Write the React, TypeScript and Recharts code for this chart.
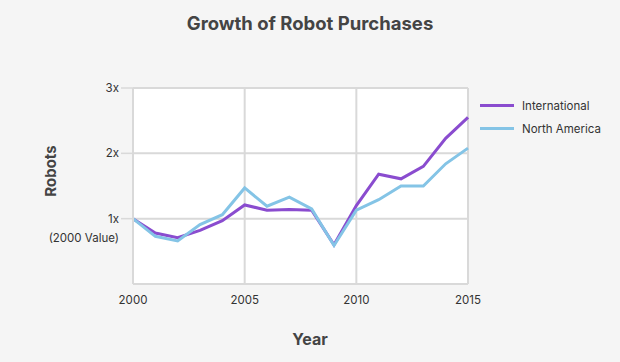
import React from 'react';
import { LineChart, Line, XAxis, YAxis, CartesianGrid, Legend } from 'recharts';

const years = [2000, 2001, 2002, 2003, 2004, 2005, 2006, 2007, 2008, 2009, 2010, 2011, 2012, 2013, 2014, 2015];
const international = [1.0, 0.78, 0.71, 0.82, 0.97, 1.21, 1.13, 1.14, 1.13, 0.6, 1.2, 1.68, 1.61, 1.8, 2.23, 2.55];
const northAmerica = [1.0, 0.73, 0.66, 0.91, 1.06, 1.47, 1.19, 1.33, 1.15, 0.59, 1.13, 1.29, 1.5, 1.5, 1.84, 2.08];
const xTicks = [2000, 2005, 2010, 2015];
const yTicks = [1, 2, 3];
const yTickLabels: Record<number, string> = { 1: '1x', 2: '2x', 3: '3x' };

const data = years.map((y, i) => ({ year: y, international: international[i], northAmerica: northAmerica[i] }));

const FONT = 'Inter, "Open Sans", sans-serif';
const PURPLE = '#8a4ccf';
const BLUE = '#84c4e6';
const GRID = '#d9d9d9';

const YTick = (props: any) => {
  const { x, y, payload } = props;
  return (
    <g>
      <text x={x} y={y} dy={4} textAnchor="end" fontSize={11.5} fill="#333" fontFamily={FONT}>
        {yTickLabels[payload.value]}
      </text>
      {payload.value === 1 && (
        <text x={x} y={y + 19} dy={4} textAnchor="end" fontSize={11.5} fill="#333" fontFamily={FONT}>
          (2000 Value)
        </text>
      )}
    </g>
  );
};

const renderLegend = (props: any) => {
  const { payload } = props;
  return (
    <div style={{ fontFamily: FONT, fontSize: 11.5, color: '#333' }}>
      {payload.map((p: any) => (
        <div key={p.value} style={{ display: 'flex', alignItems: 'center', height: 23 }}>
          <div style={{ width: 34, height: 3, background: p.color, marginRight: 8 }} />
          <span>{p.value}</span>
        </div>
      ))}
    </div>
  );
};

export default function App() {
  return (
    <div style={{ position: 'absolute', left: 0, top: 0, width: 620, height: 362, background: '#f5f5f5', fontFamily: FONT }}>
      <div style={{ position: 'absolute', left: 0, top: 12, width: 620, textAlign: 'center', fontSize: 18.5, fontWeight: 700, color: '#444' }}>
        Growth of Robot Purchases
      </div>
      <div style={{ position: 'absolute', left: 50, top: 171, transform: 'translate(-50%, -50%) rotate(-90deg)', fontSize: 15, fontWeight: 700, color: '#444', whiteSpace: 'nowrap' }}>
        Robots
      </div>
      <div style={{ position: 'absolute', left: 0, top: 329, width: 620, textAlign: 'center', fontSize: 16, fontWeight: 700, color: '#444' }}>
        Year
      </div>
      <LineChart width={620} height={362} data={data} margin={{ top: 88, right: 152, bottom: 48, left: 93 }}>
        <CartesianGrid fill="#ffffff" stroke={GRID} strokeWidth={2} />
        <XAxis
          dataKey="year"
          type="number"
          domain={[2000, 2015]}
          ticks={xTicks}
          tickLine={false}
          axisLine={{ stroke: GRID, strokeWidth: 2 }}
          height={30}
          tickMargin={6}
          tick={{ fontSize: 11.5, fill: '#333', fontFamily: FONT }}
        />
        <YAxis
          type="number"
          domain={[0, 3]}
          ticks={yTicks}
          width={40}
          tickSize={12}
          tickMargin={2}
          tickLine={{ stroke: GRID, strokeWidth: 1.5 }}
          axisLine={{ stroke: GRID, strokeWidth: 2 }}
          tick={<YTick />}
        />
        <Legend layout="vertical" align="center" verticalAlign="middle" wrapperStyle={{ left: 480, top: 94, width: 140 }} content={renderLegend} />
        <Line type="linear" dataKey="international" name="International" stroke={PURPLE} strokeWidth={3} dot={false} isAnimationActive={false} />
        <Line type="linear" dataKey="northAmerica" name="North America" stroke={BLUE} strokeWidth={3} dot={false} isAnimationActive={false} />
      </LineChart>
    </div>
  );
}
